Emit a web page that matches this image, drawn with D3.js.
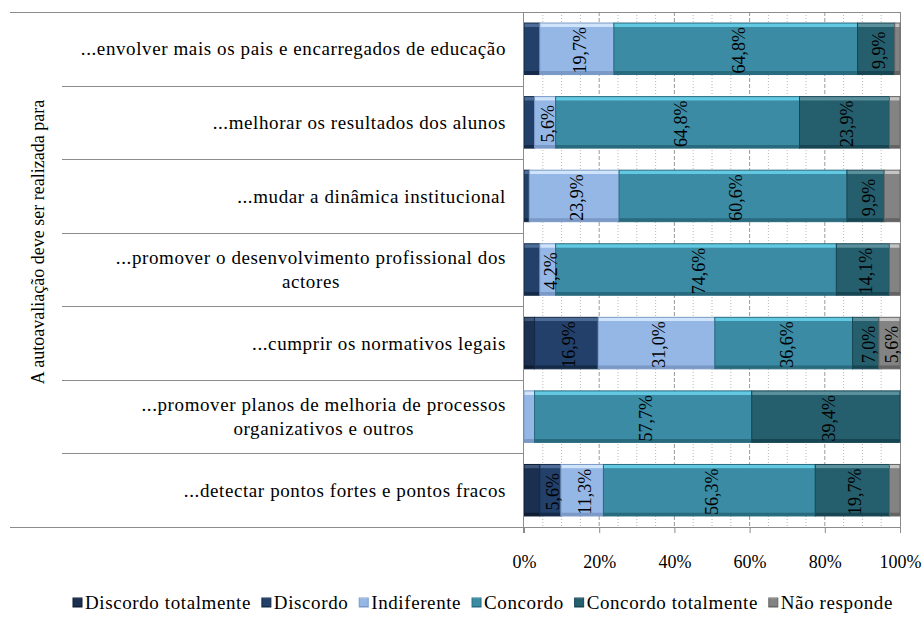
<!DOCTYPE html>
<html>
<head>
<meta charset="utf-8">
<script src="https://cdn.jsdelivr.net/npm/d3@7"></script>
<style>
  body { margin: 0; background: #fff; }
  text { font-family: "Liberation Serif", "Times New Roman", serif; }
</style>
</head>
<body>
<div id="chart"></div>
<script>
var width = 924
var height = 619

// categories, top to bottom
var categories = [
    "...envolver mais os pais e encarregados de educação",
    "...melhorar os resultados dos alunos",
    "...mudar a dinâmica institucional",
    "...promover o desenvolvimento profissional dos\nactores",
    "...cumprir os normativos legais",
    "...promover planos de melhoria de processos\norganizativos e outros",
    "...detectar pontos fortes e pontos fracos"
];

var seriesNames = ["Discordo totalmente", "Discordo", "Indiferente", "Concordo", "Concordo totalmente", "Não responde"];

// percentages per series, same order as categories
var discordoTotalmente = [0, 0, 0, 0, 2.8, 0, 4.2];
var discordo = [4.2, 2.8, 1.4, 4.2, 16.9, 0, 5.6];
var indiferente = [19.7, 5.6, 23.9, 4.2, 31.0, 2.8, 11.3];
var concordo = [64.8, 64.8, 60.6, 74.6, 36.6, 57.7, 56.3];
var concordoTotalmente = [9.9, 23.9, 9.9, 14.1, 7.0, 39.4, 19.7];
var naoResponde = [1.4, 2.8, 4.2, 2.8, 5.6, 0, 2.8];

var xTicks = [0, 0.2, 0.4, 0.6, 0.8, 1];
var yTitle = "A autoavaliação deve ser realizada para";

// data labels that were removed in the original chart: [row, series]
var hiddenLabels = [[0, 1], [2, 5], [3, 1], [6, 0]];

var seriesValues = [discordoTotalmente, discordo, indiferente, concordo, concordoTotalmente, naoResponde];

// base / highlight / shadow for the bevelled bars
var colors = [
    ["#1b3050", "#3d5679", "#0f1d33"],
    ["#22406a", "#4d6d98", "#142a48"],
    ["#95b7e6", "#cfe4fb", "#7a99c6"],
    ["#3a8ba3", "#63c8e2", "#286b7e"],
    ["#255e6d", "#5a8f9c", "#174653"],
    ["#838383", "#c4c4c4", "#646464"]
];

var serif = "Liberation Serif, Times New Roman, serif";

var rows = categories.map(function(c, i) {
    var r = { cat: c, idx: i };
    seriesNames.forEach(function(s, j) { r[s] = seriesValues[j][i]; });
    return r;
});

var stacked = d3.stack()
    .keys(seriesNames)
    .offset(d3.stackOffsetExpand)(rows);

var plot = { left: 524, right: 900, top: 12, bottom: 527 };

var x = d3.scaleLinear()
    .domain([0, 1])
    .range([plot.left, plot.right]);

var y = d3.scaleBand()
    .domain(d3.range(categories.length))
    .range([plot.top, plot.bottom])
    .paddingInner(0.3)
    .paddingOuter(0.15);

var svg = d3.select("#chart")
    .append("svg")
    .attr("width", width)
    .attr("height", height)
    .attr("font-family", serif);

var defs = svg.append("defs");
colors.forEach(function(c, i) {
    var g = defs.append("linearGradient")
        .attr("id", "bevel" + i)
        .attr("x1", 0).attr("y1", 0)
        .attr("x2", 0).attr("y2", 1);
    [[0, c[1]], [0.07, c[1]], [0.08, c[0]], [0.93, c[0]], [0.94, c[2]], [1, c[2]]]
        .forEach(function(s) {
            g.append("stop").attr("offset", s[0]).attr("stop-color", s[1]);
        });
});

// gridlines, every 5% dotted and every 20% dashed
var grid = svg.append("g");
d3.range(1, 20).forEach(function(k) {
    var major = k % 4 === 0;
    grid.append("line")
        .attr("x1", x(k / 20)).attr("x2", x(k / 20))
        .attr("y1", plot.top).attr("y2", plot.bottom)
        .attr("stroke", major ? "#9a9a9a" : "#b8b8b8")
        .attr("stroke-width", 1)
        .attr("stroke-dasharray", major ? "4,2" : "1,2");
});

// plot border
svg.append("line")
    .attr("x1", 10).attr("x2", plot.right)
    .attr("y1", plot.top + 0.5).attr("y2", plot.top + 0.5)
    .attr("stroke", "#8c8c8c");
svg.append("line")
    .attr("x1", plot.right + 0.5).attr("x2", plot.right + 0.5)
    .attr("y1", plot.top).attr("y2", plot.bottom)
    .attr("stroke", "#8c8c8c");

// bars
var layers = svg.append("g")
    .selectAll("g")
    .data(stacked)
    .enter()
    .append("g")
    .attr("fill", function(d, i) { return "url(#bevel" + i + ")"; })
    .attr("stroke", function(d, i) { return colors[i][2]; });

layers.selectAll("rect")
    .data(function(d) { return d; })
    .enter()
    .filter(function(d) { return d[1] - d[0] > 0; })
    .append("rect")
    .attr("x", function(d) { return x(d[0]); })
    .attr("y", function(d) { return y(d.data.idx); })
    .attr("width", function(d) { return x(d[1]) - x(d[0]); })
    .attr("height", y.bandwidth())
    .attr("stroke-width", 1);

// data labels
var fmt = d3.format(".1f");
var labels = svg.append("g");
stacked.forEach(function(layer, j) {
    layer.forEach(function(d, i) {
        var v = seriesValues[j][i];
        var hidden = hiddenLabels.some(function(h) { return h[0] === i && h[1] === j; });
        if (v < 4 || hidden) return;
        var cx = (x(d[0]) + x(d[1])) / 2;
        var cy = y(i) + y.bandwidth() / 2 + 1.5;
        labels.append("text")
            .attr("transform", "translate(" + (cx + 9) + "," + cy + ") rotate(-90)")
            .attr("text-anchor", "middle")
            .attr("font-size", 18)
            .attr("fill", "#000")
            .text(fmt(v).replace(".", ",") + "%");
    });
});

// x axis
var xAxis = svg.append("g")
    .attr("transform", "translate(0," + plot.bottom + ")")
    .call(d3.axisBottom(x).tickValues(xTicks).tickFormat(d3.format(".0%")).tickSizeInner(6).tickSizeOuter(0));
xAxis.attr("font-family", serif);
xAxis.select(".domain").attr("stroke", "#8c8c8c");
xAxis.selectAll(".tick line").attr("stroke", "#8c8c8c");
xAxis.selectAll("text")
    .attr("font-size", 18)
    .attr("fill", "#000")
    .attr("dy", "1.75em");

// left axis + category table
svg.append("line")
    .attr("x1", plot.left - 0.5).attr("x2", plot.left - 0.5)
    .attr("y1", plot.top).attr("y2", plot.bottom + 6)
    .attr("stroke", "#8c8c8c");
d3.range(1, categories.length).forEach(function(k) {
    var yy = Math.round(y(k) - y.step() * y.paddingInner() / 2) + 0.5;
    svg.append("line")
        .attr("x1", 62).attr("x2", plot.left)
        .attr("y1", yy).attr("y2", yy)
        .attr("stroke", "#8c8c8c");
});
svg.append("line")
    .attr("x1", 10).attr("x2", plot.left)
    .attr("y1", plot.bottom + 0.5).attr("y2", plot.bottom + 0.5)
    .attr("stroke", "#8c8c8c");

// category labels, right aligned block, lines centred in it
var catG = svg.append("g")
    .attr("font-size", 19)
    .attr("letter-spacing", 0.6)
    .attr("fill", "#000");
categories.forEach(function(c, i) {
    var lines = c.split("\n");
    var cy = y(i) + y.bandwidth() / 2;
    var lh = 24;
    var t = catG.append("text");
    lines.forEach(function(l, k) {
        t.append("tspan")
            .attr("y", cy + (k - (lines.length - 1) / 2) * lh)
            .attr("dy", "0.35em")
            .text(l);
    });
    var wMax = d3.max(t.selectAll("tspan").nodes(), function(n) { return n.getComputedTextLength(); });
    t.attr("text-anchor", "middle")
        .selectAll("tspan")
        .attr("x", 506 - wMax / 2);
});

// y title
svg.append("text")
    .attr("transform", "translate(44," + 242 + ") rotate(-90)")
    .attr("text-anchor", "middle")
    .attr("font-size", 18)
    .text(yTitle);

// legend, stretched to span 73..893 like the original
var legend = svg.append("g")
    .attr("font-size", 19)
    .attr("letter-spacing", 0.6)
    .attr("transform", "translate(0,609)");
var items = seriesNames.map(function(s, i) {
    var g = legend.append("g");
    g.append("rect")
        .attr("x", 0).attr("y", -11)
        .attr("width", 9).attr("height", 9)
        .attr("fill", "url(#bevel" + i + ")")
        .attr("stroke", colors[i][2]);
    var t = g.append("text")
        .attr("x", 12).attr("y", 0)
        .text(s);
    return { g: g, w: 12 + t.node().getComputedTextLength() };
});
var legendLeft = 73, legendRight = 893;
var used = d3.sum(items, function(d) { return d.w; });
var gap = (legendRight - legendLeft - used) / (items.length - 1);
var lx = legendLeft;
items.forEach(function(it) {
    it.g.attr("transform", "translate(" + lx + ",0)");
    lx += it.w + gap;
});
</script>
</body>
</html>
